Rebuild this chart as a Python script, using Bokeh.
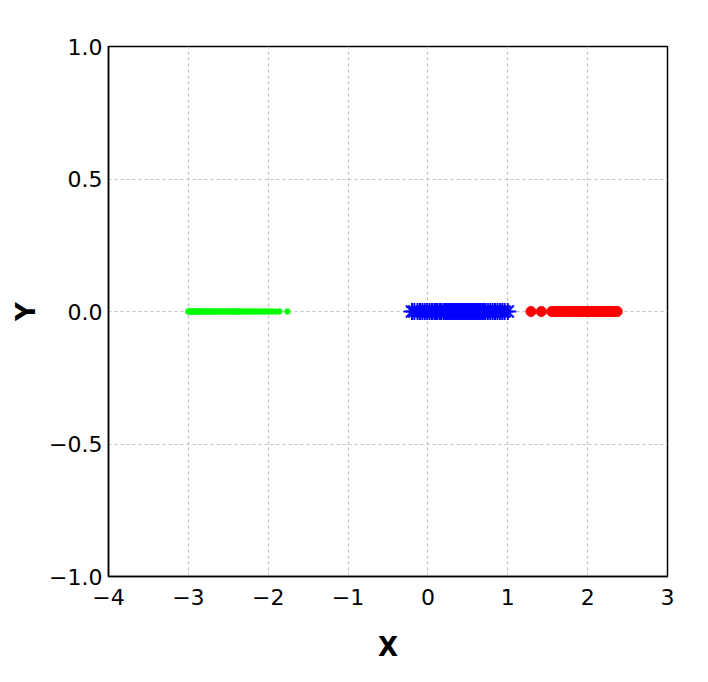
from bokeh.plotting import figure
from bokeh.embed import file_html
from bokeh.resources import INLINE
from bokeh.models import FixedTicker

# Projected values (1-D), plotted at y = 0
green_x = [-3.00, -2.99, -2.97, -2.96, -2.94, -2.92, -2.91, -2.89, -2.87, -2.86,
           -2.84, -2.82, -2.80, -2.79, -2.77, -2.74, -2.72, -2.70, -2.68, -2.66,
           -2.64, -2.61, -2.59, -2.57, -2.55, -2.53, -2.51, -2.48, -2.46, -2.44,
           -2.42, -2.40, -2.38, -2.36, -2.33, -2.31, -2.28, -2.25, -2.22, -2.19,
           -2.16, -2.13, -2.10, -2.06, -2.03, -1.99, -1.95, -1.91, -1.86, -1.76]
blue_x = [-0.20, -0.17, -0.13, -0.10, -0.07, -0.04, -0.01, 0.02, 0.05, 0.08,
          0.10, 0.12, 0.15, 0.17, 0.20, 0.22, 0.24, 0.26, 0.28, 0.30,
          0.32, 0.34, 0.36, 0.38, 0.40, 0.42, 0.44, 0.46, 0.48, 0.50,
          0.52, 0.54, 0.56, 0.58, 0.60, 0.62, 0.64, 0.66, 0.68, 0.70,
          0.72, 0.75, 0.78, 0.81, 0.84, 0.87, 0.90, 0.93, 0.96, 1.00]
red_x = [1.29, 1.42, 1.55, 1.58, 1.62, 1.65, 1.68, 1.71, 1.74, 1.77,
         1.79, 1.82, 1.84, 1.86, 1.88, 1.90, 1.92, 1.94, 1.96, 1.98,
         2.00, 2.02, 2.04, 2.06, 2.08, 2.10, 2.12, 2.14, 2.16, 2.18,
         2.20, 2.22, 2.24, 2.26, 2.28, 2.30, 2.32, 2.34, 2.36, 2.37]

x_ticks = [-4, -3, -2, -1, 0, 1, 2, 3]
y_ticks = [-1.0, -0.5, 0.0, 0.5, 1.0]
x_tick_labels = ["\u22124", "\u22123", "\u22122", "\u22121", "0", "1", "2", "3"]
y_tick_labels = ["\u22121.0", "\u22120.5", "0.0", "0.5", "1.0"]

p = figure(frame_width=559, frame_height=530, x_range=(-4, 3), y_range=(-1, 1),
           output_backend="svg", toolbar_location=None,
           min_border_left=108, min_border_right=33,
           min_border_top=46, min_border_bottom=98)

p.scatter(green_x, [0] * len(green_x), marker="circle", size=5.5,
          color="#00ff00", line_color="#00ff00")
p.scatter(blue_x, [0] * len(blue_x), marker="asterisk", size=17,
          line_color="#0000ff", line_width=2)
p.scatter(red_x, [0] * len(red_x), marker="circle", size=10,
          color="#ff0000", line_color="#ff0000")

p.xaxis.ticker = FixedTicker(ticks=x_ticks)
p.yaxis.ticker = FixedTicker(ticks=y_ticks)
p.xaxis.major_label_overrides = {t: l for t, l in zip(x_ticks, x_tick_labels)}
p.yaxis.major_label_overrides = {t: l for t, l in zip(y_ticks, y_tick_labels)}

for ax in (p.xaxis, p.yaxis):
    ax.major_tick_line_color = None
    ax.minor_tick_line_color = None
    ax.axis_line_color = "black"
    ax.axis_line_width = 1.5
    ax.major_label_text_font = "DejaVu Sans"
    ax.major_label_text_font_size = "22px"
    ax.major_label_text_color = "black"
    ax.axis_label_text_font = "DejaVu Sans"
    ax.axis_label_text_font_size = "26px"
    ax.axis_label_text_font_style = "bold"
    ax.axis_label_text_color = "black"

p.xaxis.axis_label = "X"
p.yaxis.axis_label = "Y"
p.xaxis.major_label_standoff = 6
p.yaxis.major_label_standoff = 0
p.xaxis.axis_label_standoff = 24
p.yaxis.axis_label_standoff = 5

p.grid.grid_line_color = "#c0c0c0"
p.grid.grid_line_dash = "3 3"
p.grid.grid_line_width = 1.2
p.outline_line_color = "black"
p.outline_line_width = 1.5
p.outline_line_alpha = 1.0

open("out.html", "w").write(file_html(p, INLINE))
